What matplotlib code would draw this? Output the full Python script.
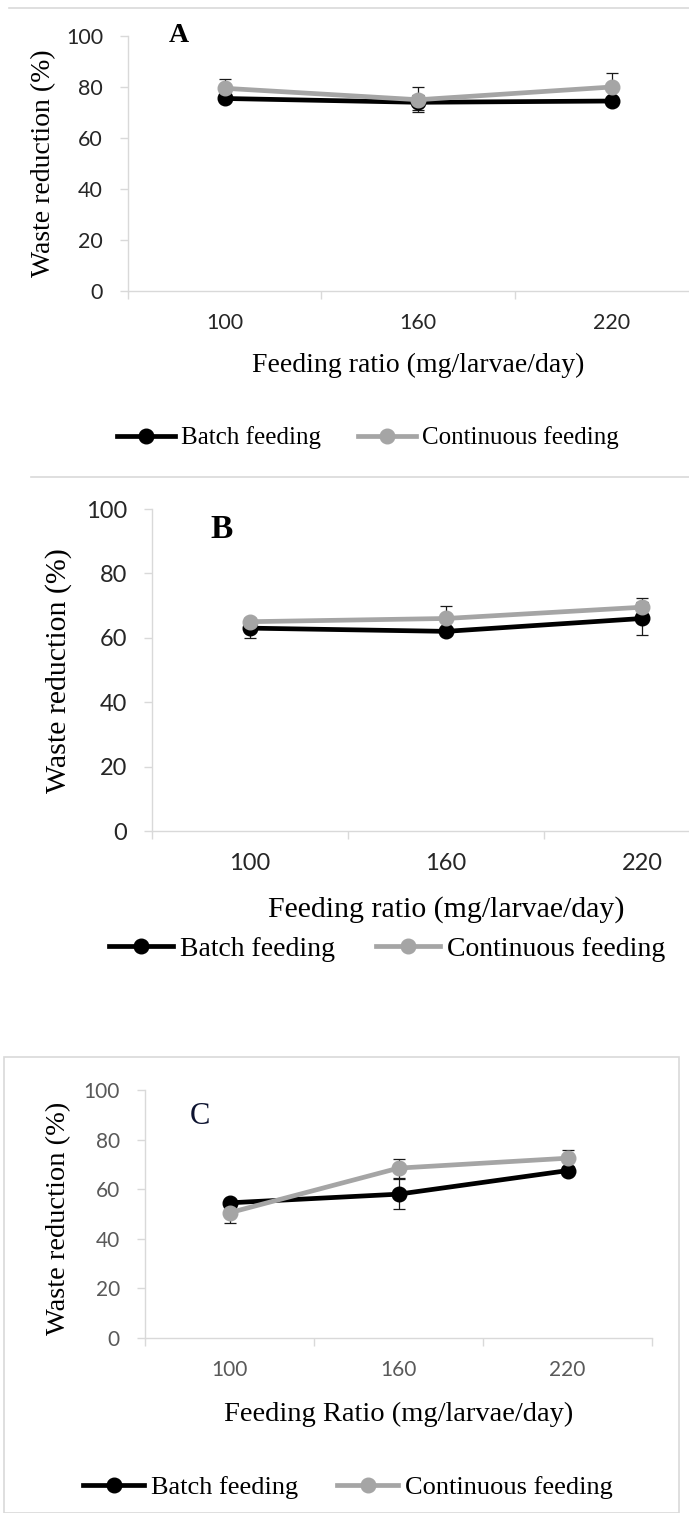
import matplotlib
matplotlib.use("Agg")
import matplotlib.pyplot as plt
from matplotlib.lines import Line2D
from matplotlib.patches import Rectangle

W, H = 689, 1513

# feeding ratio categories (mg/larvae/day)
ratios = ["100", "160", "220"]

# panel A
a_batch = [75.5, 74.0, 74.5]
a_batch_err = [1.0, 3.0, 1.0]
a_cont = [79.5, 75.0, 80.0]
a_cont_err = [3.5, 5.0, 5.5]

# panel B
b_batch = [63.0, 62.0, 66.0]
b_batch_err = [3.0, 1.0, 5.0]
b_cont = [65.0, 66.0, 69.5]
b_cont_err = [1.0, 4.0, 3.0]

# panel C
c_batch = [54.5, 58.0, 67.5]
c_batch_err = [1.0, 6.0, 1.5]
c_cont = [50.5, 68.5, 72.5]
c_cont_err = [4.3, 3.8, 3.3]

yticks = [0, 20, 40, 60, 80, 100]

BLACK = "#000000"
GRAY = "#A5A5A5"
AXC = "#D9D9D9"
SERIF = ["Liberation Serif", "DejaVu Serif"]
SANS = ["Lato", "DejaVu Sans"]

fig = plt.figure(figsize=(W / 100, H / 100), dpi=100)


def fx(x):
    return x / W


def fy(y):
    return 1 - y / H


def panel(left, y0, y100, cat_w, batch, berr, cont, cerr, tsize, tcolor):
    ax = fig.add_axes([fx(left), fy(y0), 3 * cat_w / W, (y0 - y100) / H])
    ax.set_xlim(0, 3)
    ax.set_ylim(0, 100)
    xs = [0.5, 1.5, 2.5]
    ax.errorbar(xs, batch, yerr=berr, fmt="none", ecolor="#1a1a1a",
                elinewidth=0.9, capsize=4.5, capthick=0.9, zorder=2)
    ax.errorbar(xs, cont, yerr=cerr, fmt="none", ecolor="#1a1a1a",
                elinewidth=0.9, capsize=4.5, capthick=0.9, zorder=2)
    ax.plot(xs, batch, color=BLACK, lw=3.4, marker="o", ms=10.5, zorder=3,
            clip_on=False)
    ax.plot(xs, cont, color=GRAY, lw=3.4, marker="o", ms=10.5, zorder=4,
            clip_on=False)
    for s in ["top", "right"]:
        ax.spines[s].set_visible(False)
    for s in ["left", "bottom"]:
        ax.spines[s].set_color(AXC)
        ax.spines[s].set_linewidth(1.0)
    ax.set_yticks(yticks)
    ax.set_xticks([0, 1, 2, 3])
    ax.set_xticklabels([])
    ax.set_xticks(xs, minor=True)
    ax.set_xticklabels(ratios, minor=True)
    ax.tick_params(axis="x", which="major", length=6, color=AXC, width=1.0)
    ax.tick_params(axis="x", which="minor", length=0, pad=16)
    ax.tick_params(axis="y", length=6, color=AXC, width=1.0, pad=12)
    for lab in ax.get_yticklabels() + ax.get_xticklabels(minor=True):
        lab.set_fontfamily(SANS)
        lab.set_fontsize(tsize)
        lab.set_color(tcolor)
    ax.patch.set_alpha(0)
    return ax


# panel frames
fig.add_artist(Line2D([fx(9), 1], [fy(8), fy(8)], color=AXC, lw=1.2))
fig.add_artist(Line2D([fx(31), 1], [fy(477), fy(477)], color=AXC, lw=1.2))
fig.add_artist(Rectangle((fx(4), 0), fx(679) - fx(4), fy(1057), fill=False,
                         edgecolor=AXC, lw=1.2))

panel(128, 291, 36, 193.5, a_batch, a_batch_err, a_cont, a_cont_err, 15.5, "#262626")
panel(152, 831, 509, 196, b_batch, b_batch_err, b_cont, b_cont_err, 17, "#262626")
panel(145, 1338, 1090, 169, c_batch, c_batch_err, c_cont, c_cont_err, 15, "#595959")

# panel letters
fig.text(fx(179), fy(36), "A", family=SERIF, fontsize=20, fontweight="bold",
         ha="center", va="center")
fig.text(fx(222), fy(529), "B", family=SERIF, fontsize=24, fontweight="bold",
         ha="center", va="center")
fig.text(fx(200), fy(1116), "C", family=SERIF, fontsize=22, color="#0d1330",
         ha="center", va="center")

# axis titles
ylab = "Waste reduction (%)"
fig.text(fx(44), fy(163), ylab, family=SERIF, fontsize=20, rotation=90,
         ha="center", va="center")
fig.text(fx(59), fy(671), ylab, family=SERIF, fontsize=21.5, rotation=90,
         ha="center", va="center")
fig.text(fx(59), fy(1218), ylab, family=SERIF, fontsize=20.5, rotation=90,
         ha="center", va="center")
fig.text(fx(418), fy(365), "Feeding ratio (mg/larvae/day)", family=SERIF,
         fontsize=20, ha="center", va="center")
fig.text(fx(446), fy(910), "Feeding ratio (mg/larvae/day)", family=SERIF,
         fontsize=21.5, ha="center", va="center")
fig.text(fx(399), fy(1414), "Feeding Ratio (mg/larvae/day)", family=SERIF,
         fontsize=20.5, ha="center", va="center")

# legends
handles = [Line2D([], [], color=BLACK, lw=3.4, marker="o", ms=10.5),
           Line2D([], [], color=GRAY, lw=3.4, marker="o", ms=10.5)]
names = ["Batch feeding", "Continuous feeding"]
for cx, cy, fs in [(368, 438, 18), (387, 949, 20), (348, 1487, 19)]:
    fig.legend(handles, names, loc="center", bbox_to_anchor=(fx(cx), fy(cy)),
               ncol=2, frameon=False, handlelength=2.3, handletextpad=0.25,
               columnspacing=1.5, prop={"family": SERIF, "size": fs},
               borderpad=0, borderaxespad=0)

fig.savefig("out.png", dpi=100)
